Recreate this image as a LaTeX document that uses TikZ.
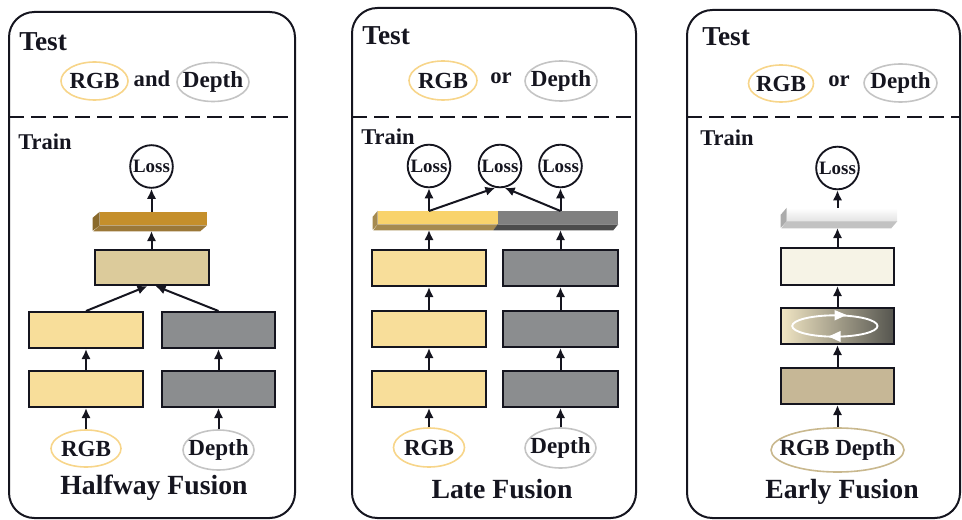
\documentclass[tikz,border=0pt]{standalone}
\usepackage{fontspec}
\setmainfont{Liberation Serif}
\usetikzlibrary{shapes.geometric,arrows.meta}

\definecolor{ink}{HTML}{15151F}
\definecolor{rgbring}{HTML}{F7D58A}
\definecolor{depring}{HTML}{C4C4C4}
\definecolor{mixring}{HTML}{C9B88E}
\definecolor{ylwbox}{HTML}{F8DE9A}
\definecolor{grybox}{HTML}{8B8D8F}
\definecolor{tanbox}{HTML}{DCCB9B}
\definecolor{goldfront}{HTML}{C58F2B}
\definecolor{goldside}{HTML}{8A6A2C}
\definecolor{goldbottom}{HTML}{9B7838}
\definecolor{lyfront}{HTML}{F9D36C}
\definecolor{lyside}{HTML}{A58A50}
\definecolor{lgfront}{HTML}{808080}
\definecolor{lgside}{HTML}{4C4C4C}
\definecolor{ivory}{HTML}{F6F3E6}
\definecolor{earlytan}{HTML}{C6B796}
\definecolor{mixleft}{HTML}{F0E5C3}
\definecolor{mixright}{HTML}{55554F}
\definecolor{wside}{HTML}{ABABAB}
\definecolor{wbottom}{HTML}{C2C2C2}

\begin{document}
\begin{tikzpicture}[x=0.75pt,y=-0.75pt,
  wh/.style 2 args={minimum width=#1*0.75pt, minimum height=#2*0.75pt},
  panel/.style={draw=ink, line width=1.5pt, rounded corners=19pt},
  sep/.style={draw=ink, dash pattern=on 11pt off 5.5pt, line width=1.6pt},
  layer/.style={draw=ink, line width=1.5pt, inner sep=0pt},
  slab/.style={inner sep=0pt, draw=none},
  loss/.style={circle, draw=ink, line width=1.4pt, minimum size=32pt, inner sep=0pt,
    text=ink, font=\bfseries\fontsize{14.2}{14.2}\selectfont},
  inp/.style={ellipse, draw, line width=1.2pt, inner xsep=-7pt, inner ysep=-5pt, text=ink,
    font=\bfseries\fontsize{17.3}{17.3}\selectfont},
  rgbin/.style={inp, draw=rgbring},
  depin/.style={inp, draw=depring},
  mixin/.style={inp, draw=mixring, inner xsep=-16pt},
  flow/.style={draw=ink, -{Latex[length=7.5pt,width=7pt]}, line width=1.5pt},
  head/.style={anchor=west, inner sep=0pt, text=ink, font=\bfseries\fontsize{20.5}{20.5}\selectfont},
  sub/.style={anchor=west, inner sep=0pt, text=ink, font=\bfseries\fontsize{16.9}{16.9}\selectfont},
  title/.style={inner sep=0pt, text=ink, font=\bfseries\fontsize{20.8}{20.8}\selectfont},
  word/.style={inner sep=0pt, text=ink, font=\bfseries\fontsize{17}{17}\selectfont}]

\useasboundingbox (0,0) rectangle (962,520);

% ---------------- Halfway fusion ----------------
\draw[panel] (9,12) rectangle (295,518);
\draw[sep] (9,117) -- (295,117);
\node[head] (t1) at (19,42) {Test};
\node[rgbin, wh={67}{38}] (tr1) at (94.5,81) {RGB};
\node[word] (and1) at (152,79) {and};
\node[depin, wh={72}{39}] (td1) at (213,82) {Depth};
\node[sub] (tn1) at (18,142) {Train};

\node[loss] (l1) at (151.5,166.5) {Loss};
\node[slab, fill=goldfront, wh={107}{13}] (s1) at (153.5,218.5) {};
\fill[goldside] (s1.north west) -- ++(-7,6) -- ++(0,13) -- (s1.south west) -- cycle;
\fill[goldbottom] (s1.south west) -- (s1.south east) -- ++(-7,6) -- ++(-107,0) -- cycle;
\coordinate (s1b) at (151.5,231);

\node[layer, fill=tanbox, wh={114}{35}] (f1) at (151.5,267.5) {};
\node[layer, fill=ylwbox, wh={114}{36}] (a2) at (86,330) {};
\node[layer, fill=ylwbox, wh={114}{36}] (a1) at (86,389) {};
\node[layer, fill=grybox, wh={113}{36}] (b2) at (218.5,330) {};
\node[layer, fill=grybox, wh={113}{36}] (b1) at (218.5,389) {};
\node[rgbin, wh={70}{37}] (ir1) at (86,448.5) {RGB};
\node[depin, wh={71}{40}] (id1) at (218.5,450) {Depth};
\node[title] (h1) at (154,488) {Halfway Fusion};

\draw[flow] (ir1) -- (a1);
\draw[flow] (a1) -- (a2);
\draw[flow] (id1) -- (b1);
\draw[flow] (b1) -- (b2);
\draw[flow] (a2.north) -- ([xshift=-3pt]f1.south);
\draw[flow] (b2.north) -- ([xshift=3pt]f1.south);
\draw[flow] (f1) -- (s1b);
\draw[flow] (s1.north -| l1) -- (l1);

% ---------------- Late fusion ----------------
\draw[panel] (352,8) rectangle (636,518);
\draw[sep] (352,117) -- (636,117);
\node[head] (t2) at (362,36) {Test};
\node[rgbin, wh={68}{39}] (tr2) at (443,80.5) {RGB};
\node[word] (or2) at (501,78) {or};
\node[depin, wh={72}{40}] (td2) at (561,81) {Depth};
\node[sub] (tn2) at (361,137) {Train};

\node[loss] (lL) at (429,166) {Loss};
\node[loss] (lM) at (500,166) {Loss};
\node[loss] (lR) at (560.5,166) {Loss};

\node[slab, fill=lyfront, wh={120}{13}] (s2y) at (438,217.5) {};
\node[slab, fill=lgfront, wh={120}{13}] (s2g) at (558,217.5) {};
\fill[lyside] (s2y.north west) -- ++(-5,6) -- ++(0,13) -- (s2y.south west) -- cycle;
\fill[lyside] (s2y.south west) -- (s2y.south east) -- ++(-5,6) -- ++(-120,0) -- cycle;
\fill[lgside] (s2g.south west) -- (s2g.south east) -- ++(-5,6) -- ++(-120,0) -- cycle;
\coordinate (s2lt) at (429,211);
\coordinate (s2rt) at (560.5,211);
\coordinate (s2lb) at (429,230);
\coordinate (s2rb) at (560.5,230);

\node[layer, fill=ylwbox, wh={114}{36}] (c3) at (429,268) {};
\node[layer, fill=ylwbox, wh={114}{36}] (c2) at (429,329) {};
\node[layer, fill=ylwbox, wh={114}{36}] (c1) at (429,389) {};
\node[layer, fill=grybox, wh={115}{36}] (d3) at (560.5,268) {};
\node[layer, fill=grybox, wh={115}{36}] (d2) at (560.5,329) {};
\node[layer, fill=grybox, wh={115}{36}] (d1) at (560.5,389) {};
\node[rgbin, wh={71}{39}] (ir2) at (429,447.5) {RGB};
\node[depin, wh={71}{40}] (id2) at (560.5,448) {Depth};
\node[title] (h2) at (502,489) {Late Fusion};

\draw[flow] (ir2) -- (c1);
\draw[flow] (c1) -- (c2);
\draw[flow] (c2) -- (c3);
\draw[flow] (c3) -- (s2lb);
\draw[flow] (id2) -- (d1);
\draw[flow] (d1) -- (d2);
\draw[flow] (d2) -- (d3);
\draw[flow] (d3) -- (s2rb);
\draw[flow] (s2lt) -- (lL);
\draw[flow] (s2rt) -- (lR);
\draw[flow] (s2lt) -- (lM.258);
\draw[flow] (s2rt) -- (lM.282);

% ---------------- Early fusion ----------------
\draw[panel] (687,10) rectangle (960,518);
\draw[sep] (687,117) -- (960,117);
\node[head] (t3) at (702,37) {Test};
\node[rgbin, wh={65}{37}] (tr3) at (781,83.5) {RGB};
\node[word] (or3) at (839,81) {or};
\node[depin, wh={73}{38}] (td3) at (900.5,83) {Depth};
\node[sub] (tn3) at (700,138) {Train};

\node[loss] (l3) at (837.5,168) {Loss};
\node[slab, top color=white, bottom color=wbottom!45, wh={110}{13}] (s3) at (842,214.5) {};
\fill[wside] (s3.north west) -- ++(-6,7) -- ++(0,13) -- (s3.south west) -- cycle;
\fill[wbottom] (s3.south west) -- (s3.south east) -- ++(-6,7) -- ++(-110,0) -- cycle;
\coordinate (s3b) at (837.5,228);

\node[layer, fill=ivory, wh={113}{37}] (e3) at (837.5,266.5) {};
\node[layer, left color=mixleft, right color=mixright, wh={113}{36}] (e2) at (837.5,326) {};
\node[layer, fill=earlytan, wh={113}{36}] (e1) at (837.5,386) {};
\node[mixin, wh={133}{44}] (im3) at (837.5,450) {RGB Depth};
\node[title] (h3) at (842,492) {Early Fusion};

% interaction loop inside the fused layer
\draw[white, line width=1.4pt] ([xshift=-2pt]e2.center) ellipse [x radius=32pt, y radius=8pt];
\fill[white] (e2.center) ++(-3,-16) -- ++(12,5) -- ++(-12,5.5) -- cycle;
\fill[white] (e2.center) ++(-9,10.5) -- ++(12,-5.5) -- ++(0,11) -- cycle;

\draw[flow] (im3) -- (e1);
\draw[flow] (e1) -- (e2);
\draw[flow] (e2) -- (e3);
\draw[flow] (e3) -- (s3b);
\draw[flow] (s3.north -| l3) -- (l3);

\end{tikzpicture}
\end{document}
